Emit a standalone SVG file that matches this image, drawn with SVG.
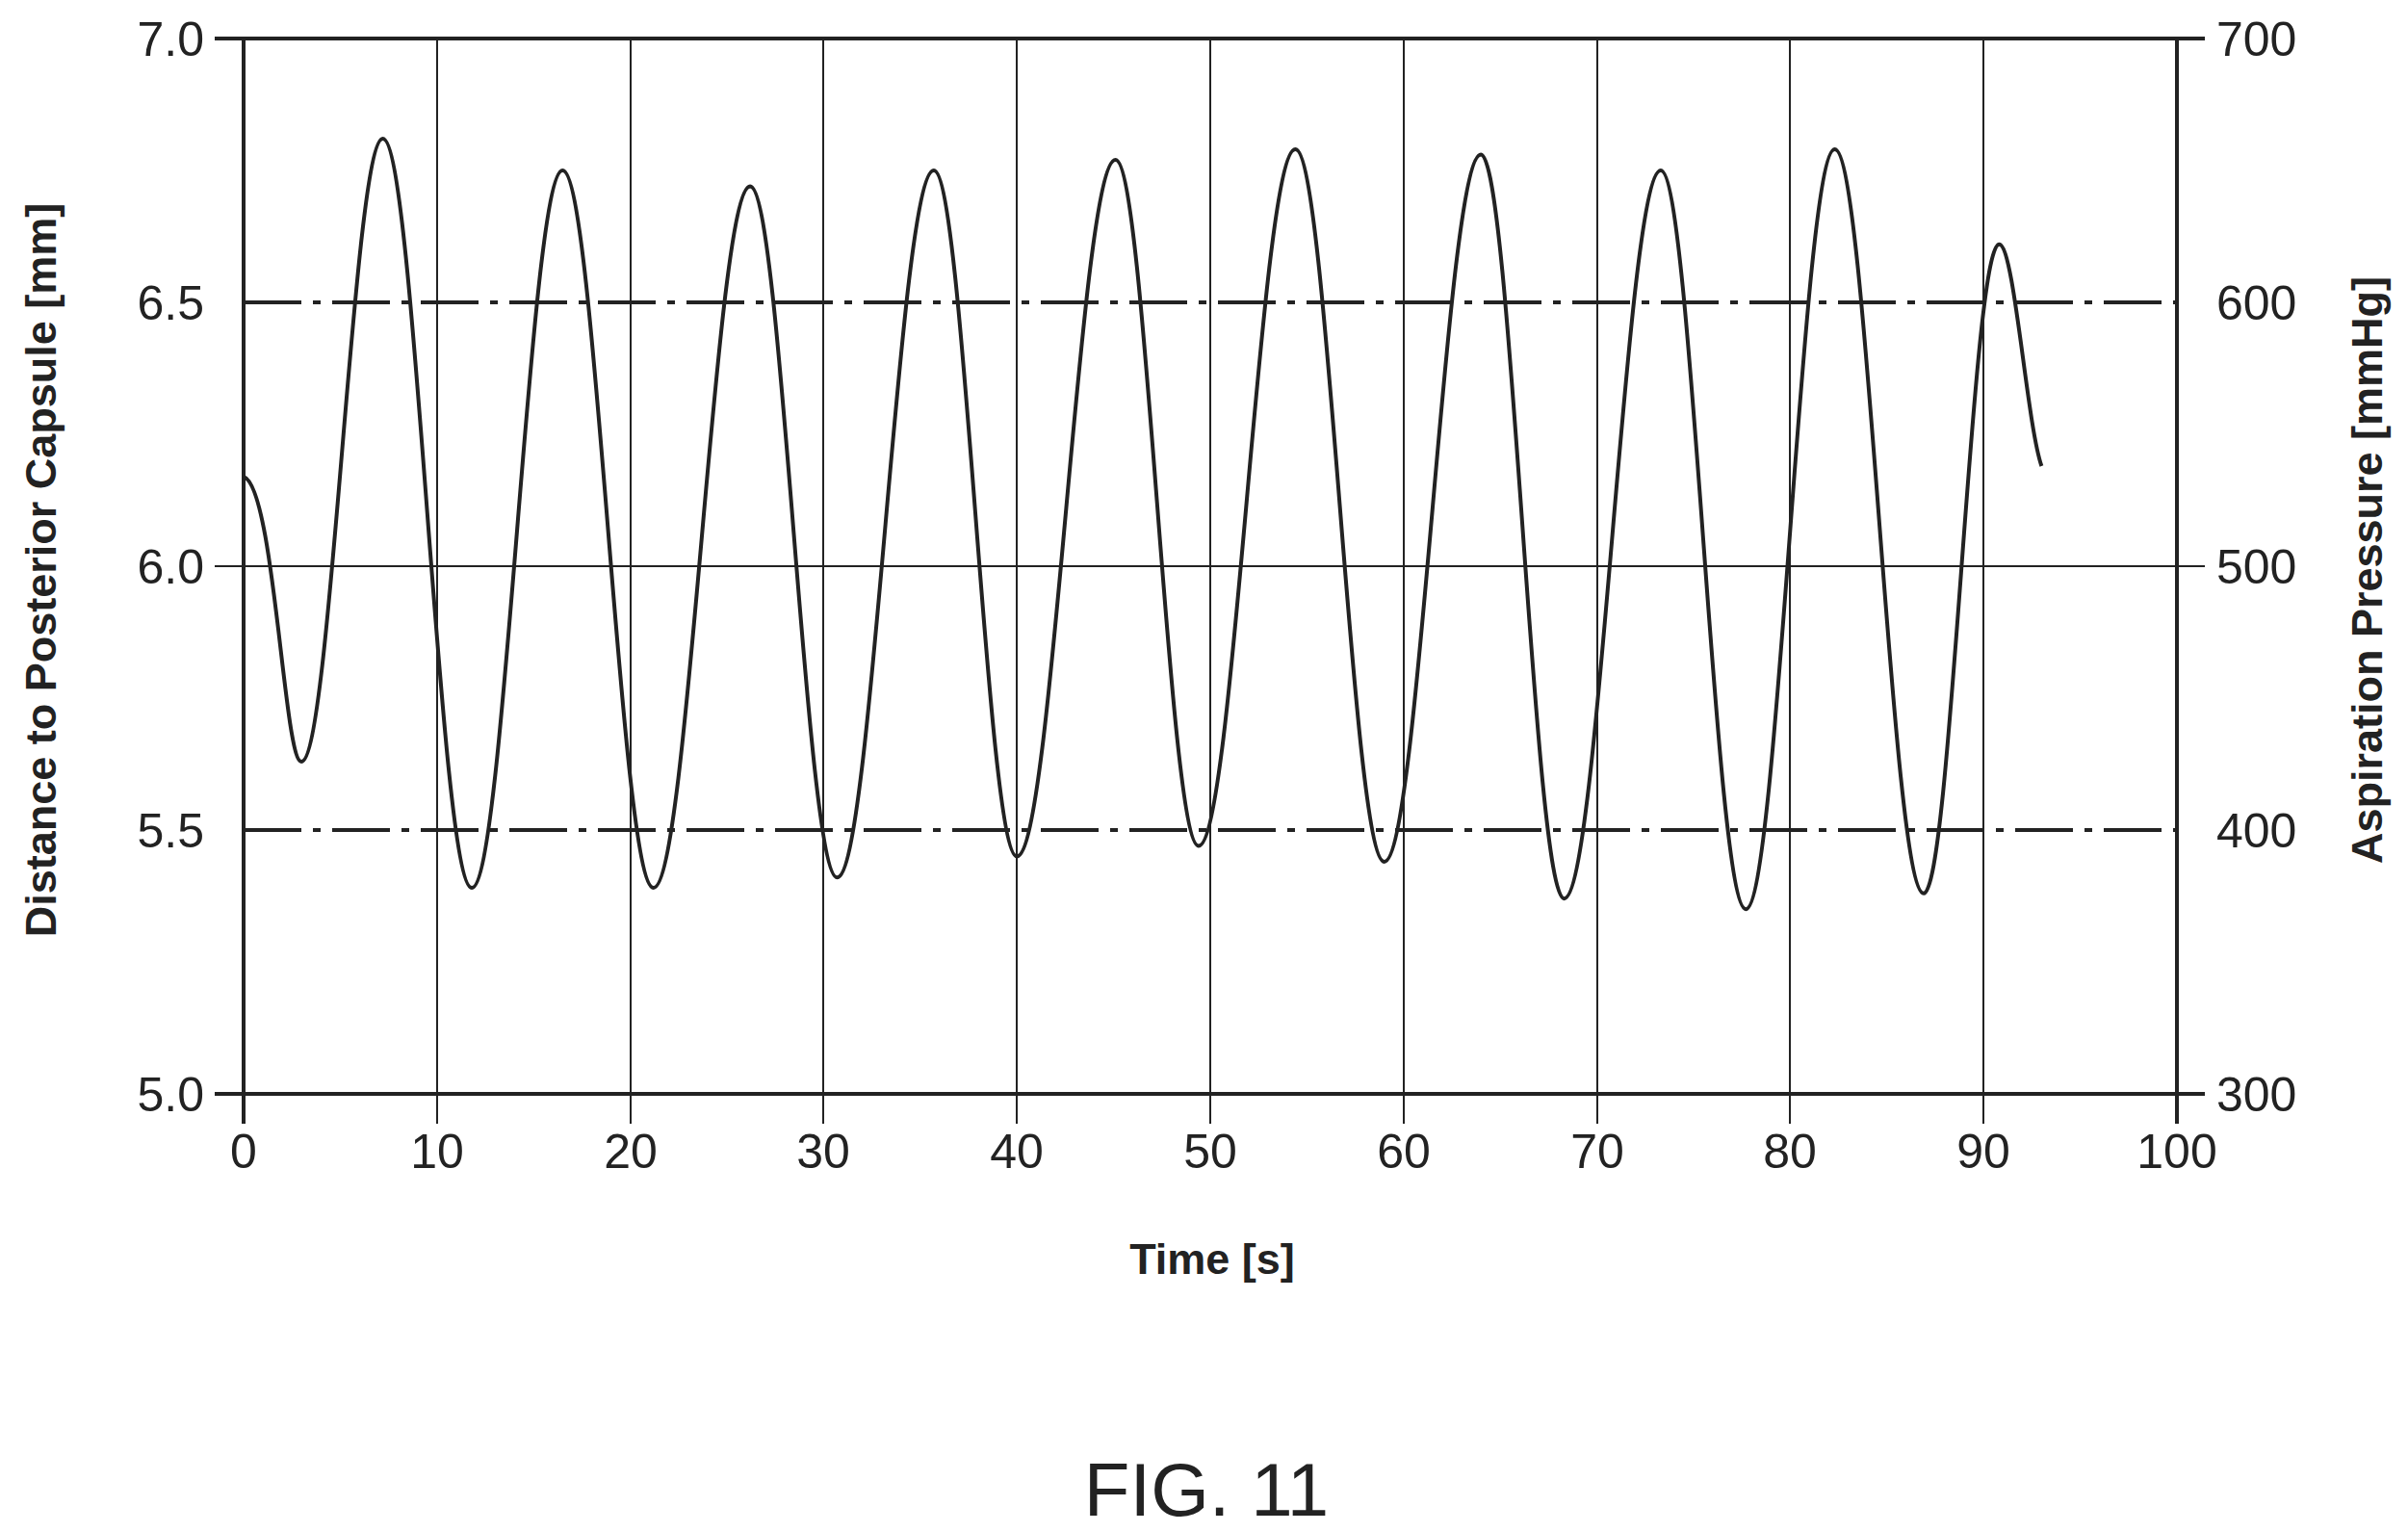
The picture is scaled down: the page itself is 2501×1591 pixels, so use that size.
<svg xmlns="http://www.w3.org/2000/svg" width="2501" height="1591" viewBox="0 0 2501 1591">
<style>
.t{font-family:"Liberation Sans",Arial,sans-serif;font-size:50px;fill:#222}
.ti{font-family:"Liberation Sans",Arial,sans-serif;font-size:45px;font-weight:bold;fill:#222}
.g{stroke:#222;stroke-width:2;fill:none}
.ax{stroke:#222;stroke-width:4;fill:none}
.dd{stroke:#222;stroke-width:4;stroke-dasharray:60 12 8 12;fill:none}
</style>
<rect width="2501" height="1591" fill="#fff"/>
<g id="grid">
<path class="g" d="M454,40V1167M655,40V1167M855,40V1167M1056,40V1167M1257,40V1167M1458,40V1167M1659,40V1167M1859,40V1167M2060,40V1167M223,588H2290"/>
<path class="dd" d="M253,314H2261M253,862H2261"/>
<path class="ax" d="M223,40H2290M223,1136H2290M253,40V1167M2261,40V1167"/>
</g>
<g id="labels">
<g class="t" text-anchor="end">
<text x="212" y="58">7.0</text><text x="212" y="332">6.5</text><text x="212" y="606">6.0</text><text x="212" y="880">5.5</text><text x="212" y="1154">5.0</text>
</g>
<g class="t">
<text x="2302" y="58">700</text><text x="2302" y="332">600</text><text x="2302" y="606">500</text><text x="2302" y="880">400</text><text x="2302" y="1154">300</text>
</g>
<g class="t" text-anchor="middle">
<text x="253" y="1213">0</text><text x="454" y="1213">10</text><text x="655" y="1213">20</text><text x="855" y="1213">30</text><text x="1056" y="1213">40</text><text x="1257" y="1213">50</text><text x="1458" y="1213">60</text><text x="1659" y="1213">70</text><text x="1859" y="1213">80</text><text x="2060" y="1213">90</text><text x="2261" y="1213">100</text>
</g>
<text class="ti" x="1259" y="1323" text-anchor="middle">Time [s]</text>
<text class="ti" transform="translate(58,592) rotate(-90)" text-anchor="middle">Distance to Posterior Capsule [mm]</text>
<text class="ti" transform="translate(2474,592) rotate(-90)" text-anchor="middle">Aspiration Pressure [mmHg]</text>
<text x="1253" y="1574" text-anchor="middle" style="font-family:'Liberation Sans',Arial,sans-serif;font-size:78px;fill:#222">FIG. 11</text>
</g>
<g id="curve">
<path fill="none" stroke="#222" stroke-width="4" d="M253,495 C285,505 295,791 313,791 C343.6,791 367.2,144 397.6,144 C430.9,144 456.7,922 490,922 C524,922 550.3,177 584.3,177 C618.3,177 644.7,922 678.7,922 C714.8,922 743,193.4 779.1,193.4 C811.6,193.4 837,911.3 869.5,911.3 C905.6,911.3 933.8,177 969.9,177 C1001,177 1025.1,889.4 1056.2,889.4 C1093.1,889.4 1121.7,166 1158.6,166 C1189.7,166 1213.8,878.4 1244.9,878.4 C1281.1,878.4 1309.2,155.1 1345.4,155.1 C1378.6,155.1 1404.5,894.9 1437.7,894.9 C1473.8,894.9 1502,160.6 1538.1,160.6 C1569.2,160.6 1593.4,933.2 1624.5,933.2 C1660.6,933.2 1688.8,177 1724.9,177 C1756.7,177 1781.4,944.2 1813.2,944.2 C1846.5,944.2 1872.3,155.1 1905.6,155.1 C1938.9,155.1 1964.7,927.8 1998,927.8 C2026.2,927.8 2048.1,253.7 2076.3,253.7 C2092,253.7 2105,440 2120.4,484"/>
</g>
</svg>
